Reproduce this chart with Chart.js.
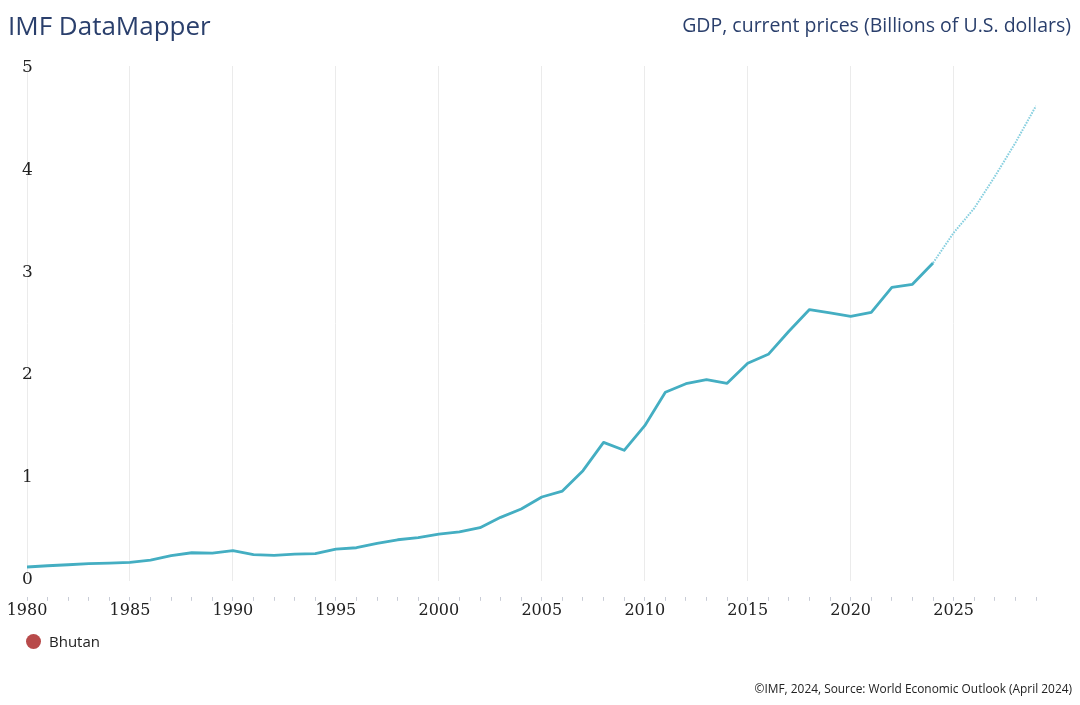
<!DOCTYPE html>
<html>
<head>
<meta charset="utf-8">
<script src="https://cdn.jsdelivr.net/npm/chart.js@4.4.1/dist/chart.umd.min.js"></script>
<style>
  html, body { margin: 0; padding: 0; background: #ffffff; }
  #wrap { position: relative; width: 1080px; height: 705px; overflow: hidden; background: #fff; }
  #c { position: absolute; left: 0; top: 0; }
  .t { position: absolute; font-family: "Open Sans", "Noto Sans", sans-serif; white-space: nowrap; line-height: normal; }
  #title { left: 8px; top: 7px; font-size: 26px; color: #2a3f6c; }
  #sub { right: 9px; top: 11px; font-size: 19.5px; color: #2a3f6c; }
  #legend { left: 26px; top: 631px; font-size: 15px; color: #222; display: flex; align-items: center; }
  #legend .dot { width: 15px; height: 15px; border-radius: 50%; background: #b84a4a; margin-right: 8px; }
  #foot { right: 8px; top: 680px; font-size: 11.9px; color: #222; }
</style>
</head>
<body>
<div id="wrap">
  <canvas id="c" width="1080" height="705"></canvas>
  <div class="t" id="title">IMF DataMapper</div>
  <div class="t" id="sub">GDP, current prices (Billions of U.S. dollars)</div>
  <div class="t" id="legend"><span class="dot"></span><span>Bhutan</span></div>
  <div class="t" id="foot">©IMF, 2024, Source: World Economic Outlook (April 2024)</div>
</div>
<script>
const years = [1980, 1981, 1982, 1983, 1984, 1985, 1986, 1987, 1988, 1989,
               1990, 1991, 1992, 1993, 1994, 1995, 1996, 1997, 1998, 1999,
               2000, 2001, 2002, 2003, 2004, 2005, 2006, 2007, 2008, 2009,
               2010, 2011, 2012, 2013, 2014, 2015, 2016, 2017, 2018, 2019,
               2020, 2021, 2022, 2023, 2024, 2025, 2026, 2027, 2028, 2029];
const bhutanGDP = [0.105, 0.117, 0.127, 0.137, 0.143, 0.150, 0.173, 0.215, 0.244, 0.241,
                   0.264, 0.226, 0.218, 0.231, 0.235, 0.280, 0.293, 0.335, 0.371, 0.391,
                   0.427, 0.447, 0.489, 0.590, 0.671, 0.789, 0.847, 1.046, 1.323, 1.245,
                   1.486, 1.812, 1.896, 1.935, 1.900, 2.095, 2.183, 2.408, 2.620, 2.587,
                   2.554, 2.593, 2.838, 2.867, 3.076, 3.370, 3.610, 3.920, 4.250, 4.610];
const lastActualYear = 2024;
const yTicks = [0, 1, 2, 3, 4, 5];
const xLabelEvery = 5;
const seriesName = 'Bhutan';

const tickFont = { family: 'DejaVu Serif', size: 16 };

new Chart(document.getElementById('c'), {
  type: 'line',
  data: {
    datasets: [{
      label: seriesName,
      data: years.map((y, i) => ({ x: y, y: bhutanGDP[i] })),
      borderColor: '#44aec2',
      borderWidth: 2.8,
      pointRadius: 0,
      tension: 0,
      borderJoinStyle: 'round',
      segment: {
        borderColor: ctx => ctx.p0.parsed.x >= lastActualYear ? '#86cfdf' : undefined,
        borderDash: ctx => ctx.p0.parsed.x >= lastActualYear ? [1.6, 1.2] : undefined,
        borderWidth: ctx => ctx.p0.parsed.x >= lastActualYear ? 2 : undefined
      }
    }]
  },
  options: {
    responsive: false,
    animation: false,
    devicePixelRatio: 1,
    layout: { padding: { left: 27, right: 44, top: 66, bottom: 85 } },
    plugins: { legend: { display: false }, tooltip: { enabled: false } },
    scales: {
      x: {
        type: 'linear',
        min: years[0],
        max: years[years.length - 1],
        afterBuildTicks: s => { s.ticks = years.map(v => ({ value: v })); },
        border: { display: false },
        grid: {
          color: ctx => (ctx.tick && ctx.tick.value % xLabelEvery === 0) ? '#ebebeb' : 'rgba(0,0,0,0)',
          lineWidth: 1,
          tickColor: '#c8ccd6',
          tickLength: 20,
          tickBorderDash: [4, 16],
          tickBorderDashOffset: 4
        },
        ticks: {
          autoSkip: false,
          maxRotation: 0,
          padding: 0,
          color: '#222',
          font: tickFont,
          callback: v => v % xLabelEvery === 0 ? String(v) : ''
        }
      },
      y: {
        min: -0.03,
        max: 5,
        afterBuildTicks: s => { s.ticks = yTicks.map(v => ({ value: v })); },
        afterFit: s => { s.width = 0; },
        border: { display: false },
        grid: { display: false, drawTicks: false },
        ticks: {
          mirror: true,
          padding: -5,
          labelOffset: 2,
          color: '#222',
          font: { family: 'DejaVu Serif', size: 17 },
          callback: v => String(v)
        }
      }
    }
  }
});
</script>
</body>
</html>
